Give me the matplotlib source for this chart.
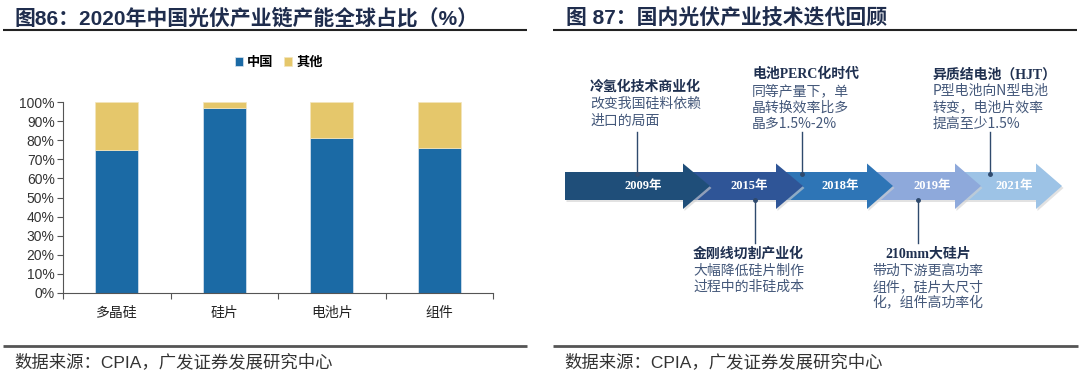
import matplotlib
matplotlib.use('Agg')
import matplotlib.pyplot as plt
from matplotlib.patches import Polygon

plt.rcParams['font.family'] = ['Noto Sans CJK SC', 'DejaVu Sans']

# ---------------- data ----------------
categories = ['多晶硅', '硅片', '电池片', '组件']
china = [75, 97, 81, 76]
others = [25, 3, 19, 24]
series_names = ['中国', '其他']
ytick_values = list(range(0, 101, 10))
ytick_labels = [f'{v}%' for v in ytick_values]

left_title = '图86：2020年中国光伏产业链产能全球占比（%）'
right_title = '图 87：国内光伏产业技术迭代回顾'
source_text = '数据来源：CPIA，广发证券发展研究中心'

years = ['2009年', '2015年', '2018年', '2019年', '2021年']
event_titles = ['冷氢化技术商业化', '金刚线切割产业化', '电池PERC化时代', '210mm大硅片', '异质结电池（HJT）']
event_bodies = [
    ['改变我国硅料依赖', '进口的局面'],
    ['大幅降低硅片制作', '过程中的非硅成本'],
    ['同等产量下，单', '晶转换效率比多', '晶多1.5%-2%'],
    ['带动下游更高功率', '组件，硅片大尺寸', '化，组件高功率化'],
    ['P型电池向N型电池', '转变，电池片效率', '提高至少1.5%'],
]

# ---------------- layout ----------------
W, H = 1080, 375
fig = plt.figure(figsize=(10.8, 3.75), dpi=100)


def fx(x):
    return x / W


def fy(y):
    return 1 - y / H


BLUE = '#1B6AA5'
GOLD = '#E5C76B'
NAVY = '#1F2D4D'

# overlay axes in pixel coordinates
ov = fig.add_axes([0, 0, 1, 1], zorder=0)
ov.set_xlim(0, W)
ov.set_ylim(H, 0)
ov.axis('off')

# ---- left bar chart ----
ax = fig.add_axes([fx(63), fy(293), fx(493) - fx(63), fy(102) - fy(293)], zorder=1)
ax.patch.set_alpha(0)
xpos = list(range(1, len(categories) + 1))
ax.bar(xpos, china, width=0.4, color=BLUE, edgecolor='#DDE6F0', linewidth=0.5, label=series_names[0])
ax.bar(xpos, others, bottom=china, width=0.4, color=GOLD, edgecolor='#F3E6BE', linewidth=0.5, label=series_names[1])
ax.set_xlim(0.5, len(categories) + 0.5)
ax.set_ylim(0, 100)
ax.set_yticks(ytick_values)
ax.set_yticklabels(ytick_labels, fontfamily=['Liberation Sans', 'DejaVu Sans'], fontsize=10, color='#333333')
ax.set_xticks([i + 0.5 for i in range(0, len(categories) + 1)])
ax.set_xticklabels([])
ax.set_xticks(xpos, minor=True)
ax.set_xticklabels(categories, minor=True, fontsize=10, color='#222222')
ax.tick_params(axis='x', which='minor', length=0, pad=9)
ax.tick_params(axis='x', which='major', length=4, direction='out', color='#555555', width=0.8)
ax.tick_params(axis='y', length=4, direction='out', color='#555555', width=0.8, pad=2)
for s in ['top', 'right']:
    ax.spines[s].set_visible(False)
for s in ['left', 'bottom']:
    ax.spines[s].set_color('#555555')
    ax.spines[s].set_linewidth(0.8)

leg = ax.legend(loc='center', bbox_to_anchor=(fx(279), fy(62)), bbox_transform=fig.transFigure,
                ncol=2, frameon=False, handlelength=0.6, handleheight=0.6, handletextpad=0.3,
                columnspacing=0.8, prop={'weight': 'bold', 'size': 9.5})

# ---- titles / rules / sources ----
ov.text(15, 18, left_title, fontsize=15, fontweight='bold', color=NAVY, va='center', ha='left',
        family=['Liberation Sans', 'Noto Sans CJK SC'])
ov.text(566, 18, right_title, fontsize=15, fontweight='bold', color=NAVY, va='center', ha='left',
        family=['Liberation Sans', 'Noto Sans CJK SC'])
ov.plot([3, 527], [30, 30], color='#222222', lw=1.5, solid_capstyle='butt')
ov.plot([553, 1077], [30, 30], color='#222222', lw=1.5, solid_capstyle='butt')
ov.plot([3, 527], [345.5, 345.5], color='#555555', lw=2, solid_capstyle='butt')
ov.plot([553, 1078], [345.5, 345.5], color='#555555', lw=2, solid_capstyle='butt')
ov.text(14, 362, source_text, fontsize=12.5, color='#333333', va='center', ha='left',
        family=['Liberation Sans', 'Noto Sans CJK SC'])
ov.text(564, 362, source_text, fontsize=12.5, color='#333333', va='center', ha='left',
        family=['Liberation Sans', 'Noto Sans CJK SC'])

# ---- timeline arrows ----
arrow_colors = ['#1F4E79', '#2F5597', '#2E75B6', '#8EA9DB', '#9DC3E6']
head_base = [683, 776, 867, 955, 1036]
tips = [710, 803, 893, 981, 1062]
first_start = 565
body_top, body_bot, head_top, head_bot, mid = 172, 200, 163.5, 209, 186
year_x = [643, 749, 840, 932, 1014]

for i in reversed(range(len(years))):
    start = first_start if i == 0 else head_base[i - 1]
    pts = [(start, body_top), (head_base[i], body_top), (head_base[i], head_top), (tips[i], mid),
           (head_base[i], head_bot), (head_base[i], body_bot), (start, body_bot)]
    shadow = [(x + 1.5, y + 2.0) for x, y in pts]
    ov.add_patch(Polygon(shadow, closed=True, facecolor='#D0D0D0', edgecolor='none', alpha=0.6, zorder=2 + (5 - i) * 2))
    ov.add_patch(Polygon(pts, closed=True, facecolor=arrow_colors[i], edgecolor='none', zorder=3 + (5 - i) * 2))

for i, y in enumerate(years):
    ov.text(year_x[i], mid, y, color='white', fontsize=9, fontweight='bold', ha='center', va='center',
            family=['Liberation Serif', 'Noto Sans CJK SC'], zorder=20)

# connectors
LINE_C = '#2F4A6D'
conn_x = [637, 755, 802, 918, 990]
above = [True, False, True, False, True]
for i in range(len(years)):
    if above[i]:
        ov.plot([conn_x[i], conn_x[i]], [132, 174], color=LINE_C, lw=1, zorder=21)
        ov.plot(conn_x[i], 174, 'o', ms=2.5, color=LINE_C, zorder=21)
    else:
        ov.plot([conn_x[i], conn_x[i]], [200, 243], color=LINE_C, lw=1, zorder=21)
        ov.plot(conn_x[i], 200, 'o', ms=2.5, color=LINE_C, zorder=21)

# event texts
TITLE_C = '#1F3050'
BODY_C = '#44587A'
text_pos = [
    (590, 87.5, 'left', 590, 'left'),
    (693, 254, 'left', 693, 'left'),
    (752, 74.5, 'left', 752, 'left'),
    (928, 254, 'center', 872.5, 'left'),
    (932.5, 74.5, 'left', 932.5, 'left'),
]
line_gap = 16.5
for i in range(len(years)):
    tx, ty, tha, bx, bha = text_pos[i]
    ov.text(tx, ty, event_titles[i], fontsize=10, fontweight='bold', color=TITLE_C, ha=tha, va='center',
            family=['Liberation Serif', 'Noto Sans CJK SC'])
    for j, line in enumerate(event_bodies[i]):
        ov.text(bx, ty + line_gap * (j + 1), line, fontsize=10, color=BODY_C, ha=bha, va='center',
                family=['Noto Sans CJK SC', 'DejaVu Sans'])

fig.savefig('out.png', dpi=100)
